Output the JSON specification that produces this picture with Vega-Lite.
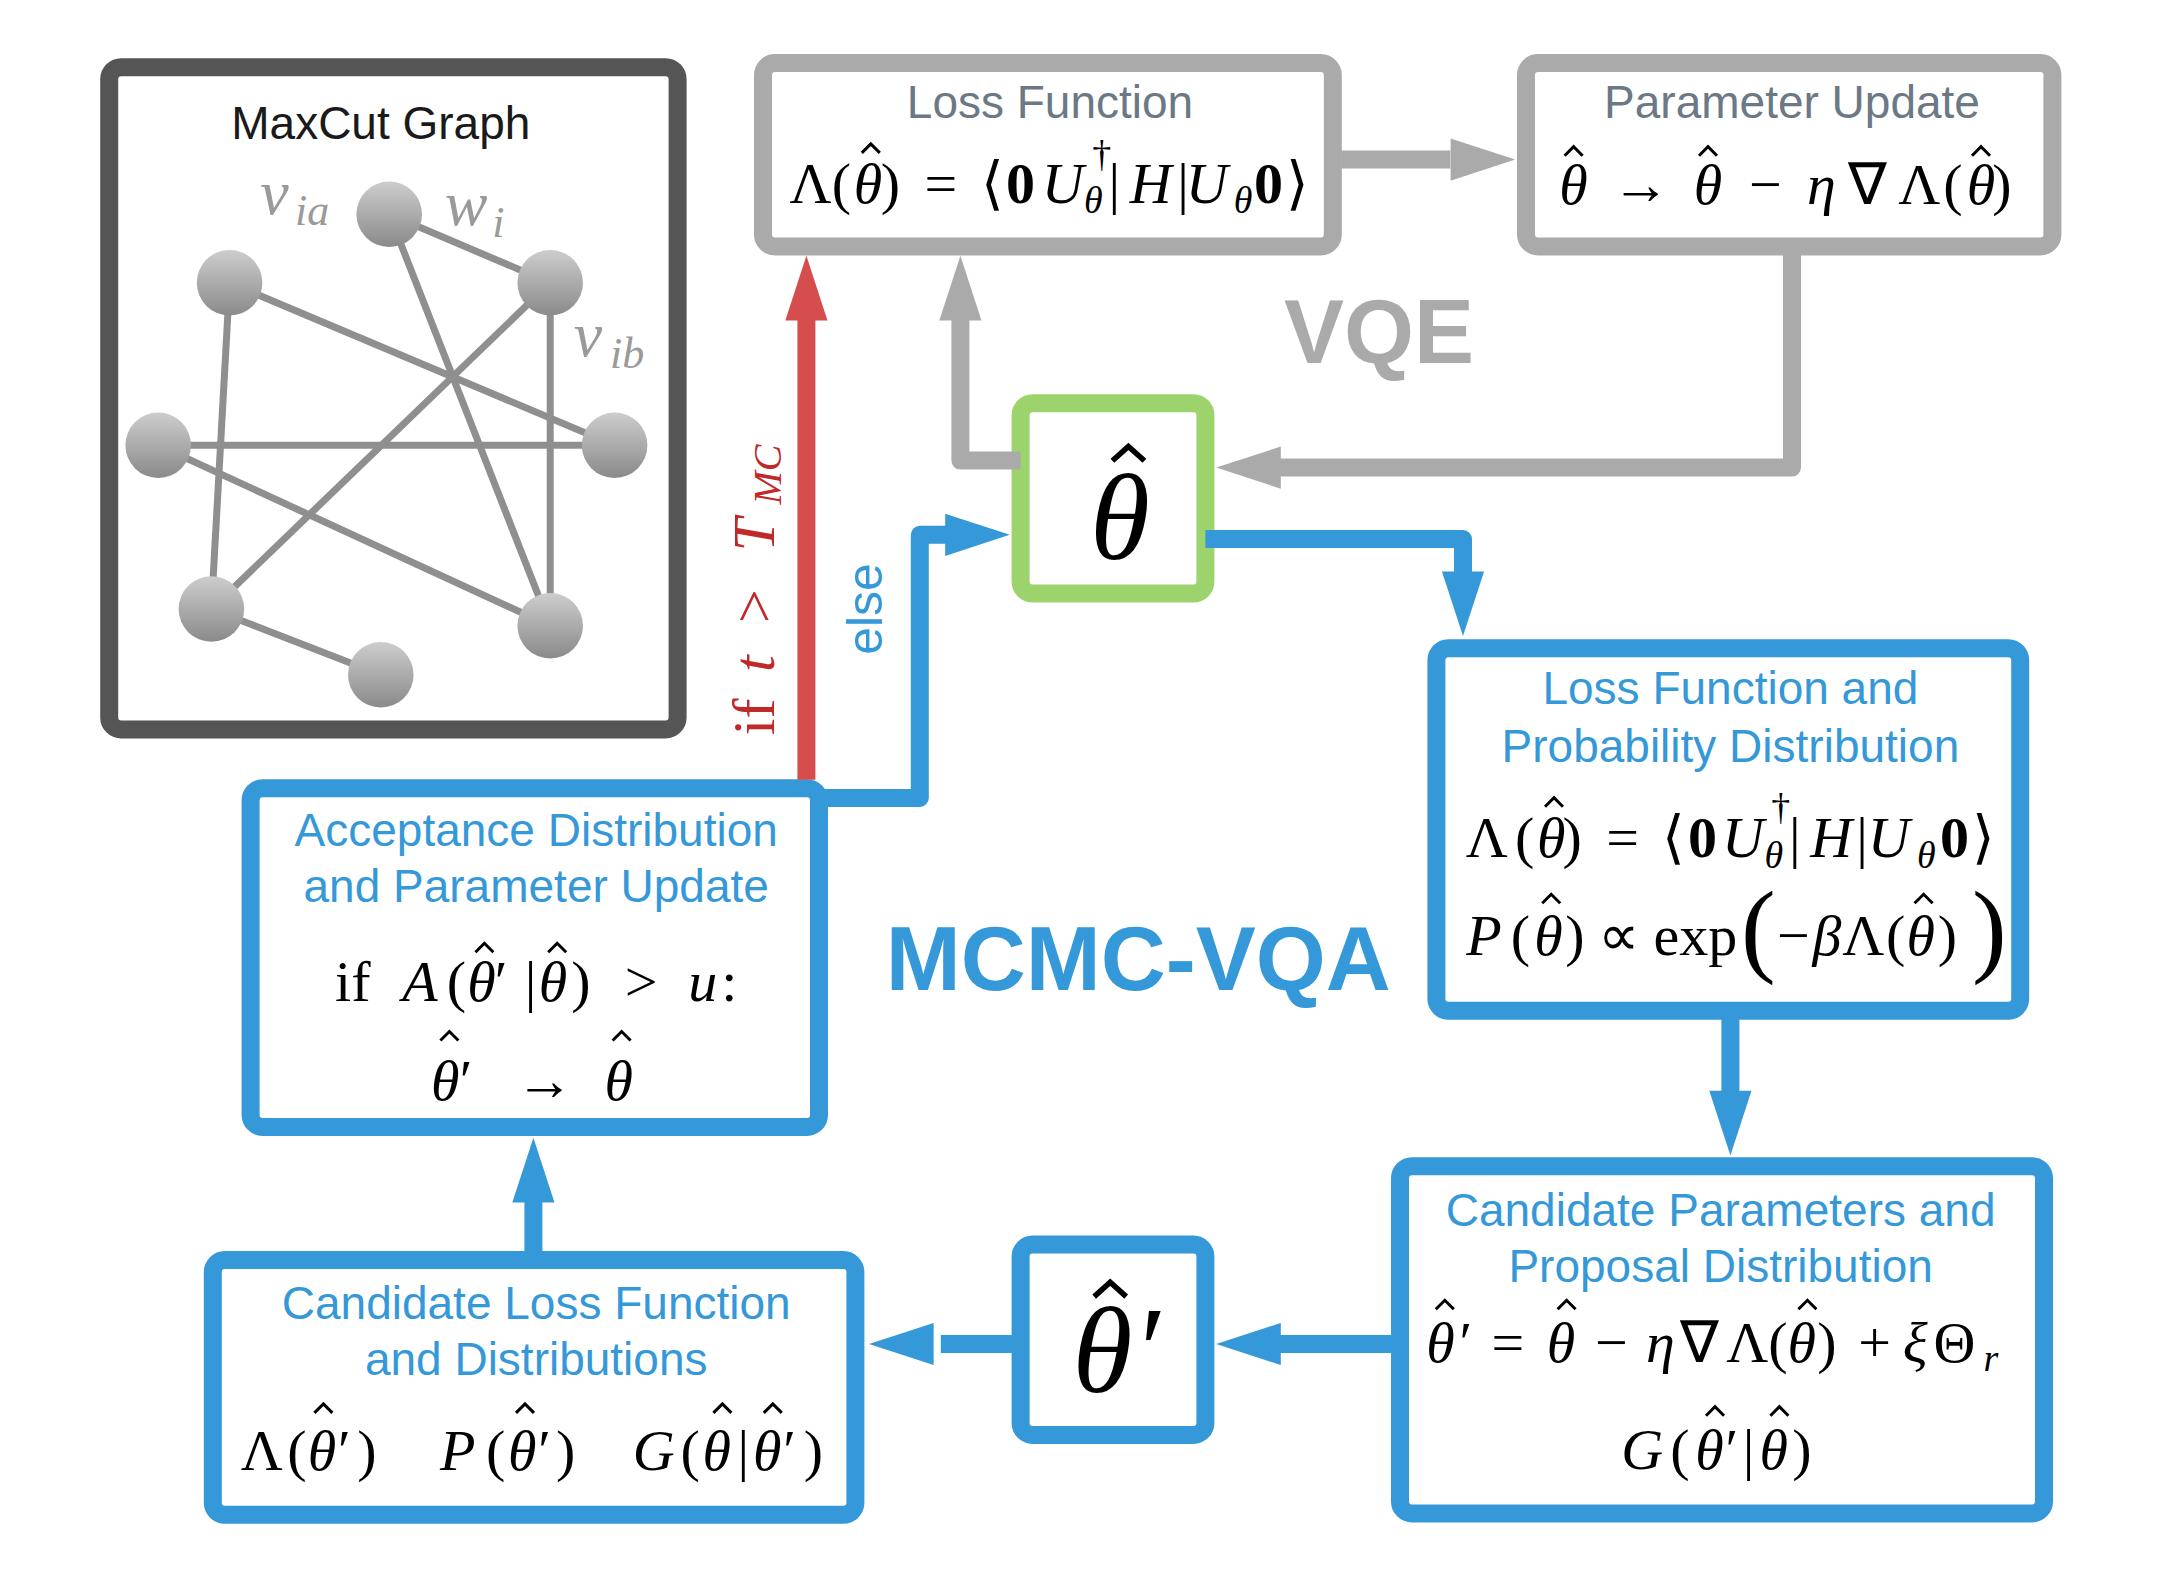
{
  "$schema": "https://vega.github.io/schema/vega-lite/v6.json",
  "description": "MCMC-VQA flow diagram with the VQE loop and a MaxCut graph",
  "width": 2184,
  "height": 1580,
  "autosize": {"type": "fit", "contains": "padding"},
  "padding": 0,
  "background": "white",
  "config": {"view": {"stroke": null}},
  "datasets": {
    "boxes": [
      {"x": 78, "x2": 484, "y": 48, "y2": 521, "kind": "graph"},
      {"x": 545, "x2": 952, "y": 45, "y2": 176, "kind": "vqe"},
      {"x": 1090, "x2": 1466, "y": 45, "y2": 176, "kind": "vqe"},
      {"x": 729, "x2": 861, "y": 288, "y2": 424, "kind": "theta"},
      {"x": 1026, "x2": 1443, "y": 463, "y2": 722, "kind": "mcmc"},
      {"x": 1000, "x2": 1460, "y": 833, "y2": 1081, "kind": "mcmc"},
      {"x": 729, "x2": 861, "y": 889, "y2": 1025, "kind": "mcmc"},
      {"x": 152, "x2": 611, "y": 900, "y2": 1082, "kind": "mcmc"},
      {"x": 179, "x2": 585, "y": 563, "y2": 805, "kind": "mcmc"}
    ],
    "edges": [
      {"x": 278, "y": 153, "x2": 393, "y2": 202},
      {"x": 278, "y": 153, "x2": 393, "y2": 447},
      {"x": 164, "y": 202, "x2": 439, "y2": 318},
      {"x": 164, "y": 202, "x2": 151, "y2": 435},
      {"x": 393, "y": 202, "x2": 151, "y2": 435},
      {"x": 393, "y": 202, "x2": 393, "y2": 447},
      {"x": 113, "y": 318, "x2": 439, "y2": 318},
      {"x": 113, "y": 318, "x2": 393, "y2": 447},
      {"x": 151, "y": 435, "x2": 272, "y2": 482}
    ],
    "nodes": [
      {"x": 278, "y": 153},
      {"x": 164, "y": 202},
      {"x": 393, "y": 202},
      {"x": 113, "y": 318},
      {"x": 439, "y": 318},
      {"x": 151, "y": 435},
      {"x": 393, "y": 447},
      {"x": 272, "y": 482}
    ],
    "paths": [
      {"p": "vqe1", "o": 1, "x": 958, "y": 114, "kind": "vqe"},
      {"p": "vqe1", "o": 2, "x": 1036, "y": 114, "kind": "vqe"},
      {"p": "vqe2", "o": 1, "x": 1280, "y": 176, "kind": "vqe"},
      {"p": "vqe2", "o": 2, "x": 1280, "y": 334, "kind": "vqe"},
      {"p": "vqe2", "o": 3, "x": 914, "y": 334, "kind": "vqe"},
      {"p": "vqe3", "o": 1, "x": 729, "y": 329, "kind": "vqe"},
      {"p": "vqe3", "o": 2, "x": 686, "y": 329, "kind": "vqe"},
      {"p": "vqe3", "o": 3, "x": 686, "y": 228, "kind": "vqe"},
      {"p": "red", "o": 1, "x": 576, "y": 557, "kind": "red"},
      {"p": "red", "o": 2, "x": 576, "y": 228, "kind": "red"},
      {"p": "b1", "o": 1, "x": 585, "y": 570, "kind": "mcmc"},
      {"p": "b1", "o": 2, "x": 657, "y": 570, "kind": "mcmc"},
      {"p": "b1", "o": 3, "x": 657, "y": 382, "kind": "mcmc"},
      {"p": "b1", "o": 4, "x": 676, "y": 382, "kind": "mcmc"},
      {"p": "b2", "o": 1, "x": 861, "y": 385, "kind": "mcmc"},
      {"p": "b2", "o": 2, "x": 1045, "y": 385, "kind": "mcmc"},
      {"p": "b2", "o": 3, "x": 1045, "y": 410, "kind": "mcmc"},
      {"p": "b3", "o": 1, "x": 1236, "y": 722, "kind": "mcmc"},
      {"p": "b3", "o": 2, "x": 1236, "y": 782, "kind": "mcmc"},
      {"p": "b4", "o": 1, "x": 1000, "y": 960, "kind": "mcmc"},
      {"p": "b4", "o": 2, "x": 914, "y": 960, "kind": "mcmc"},
      {"p": "b5", "o": 1, "x": 729, "y": 960, "kind": "mcmc"},
      {"p": "b5", "o": 2, "x": 672, "y": 960, "kind": "mcmc"},
      {"p": "b6", "o": 1, "x": 381, "y": 900, "kind": "mcmc"},
      {"p": "b6", "o": 2, "x": 381, "y": 858, "kind": "mcmc"}
    ],
    "heads": [
      {"x": 1058, "y": 114, "dir": "right", "kind": "vqe"},
      {"x": 893, "y": 334, "dir": "left", "kind": "vqe"},
      {"x": 686, "y": 207, "dir": "up", "kind": "vqe"},
      {"x": 576, "y": 207, "dir": "up", "kind": "red"},
      {"x": 697, "y": 382, "dir": "right", "kind": "mcmc"},
      {"x": 1045, "y": 430, "dir": "down", "kind": "mcmc"},
      {"x": 1236, "y": 801, "dir": "down", "kind": "mcmc"},
      {"x": 893, "y": 960, "dir": "left", "kind": "mcmc"},
      {"x": 645, "y": 960, "dir": "left", "kind": "mcmc"},
      {"x": 381, "y": 837, "dir": "up", "kind": "mcmc"}
    ],
    "titles": [
      {"x": 272, "y": 89, "text": "MaxCut Graph", "kind": "black"},
      {"x": 750, "y": 74, "text": "Loss Function", "kind": "slate"},
      {"x": 1280, "y": 74, "text": "Parameter Update", "kind": "slate"},
      {"x": 1236, "y": 493, "text": "Loss Function and", "kind": "mcmc"},
      {"x": 1236, "y": 534, "text": "Probability Distribution", "kind": "mcmc"},
      {"x": 1229, "y": 866, "text": "Candidate Parameters and", "kind": "mcmc"},
      {"x": 1229, "y": 906, "text": "Proposal Distribution", "kind": "mcmc"},
      {"x": 383, "y": 932, "text": "Candidate Loss Function", "kind": "mcmc"},
      {"x": 383, "y": 972, "text": "and Distributions", "kind": "mcmc"},
      {"x": 383, "y": 594, "text": "Acceptance Distribution", "kind": "mcmc"},
      {"x": 383, "y": 634, "text": "and Parameter Update", "kind": "mcmc"}
    ],
    "big": [
      {"x": 985, "y": 240, "text": "VQE", "kind": "vqe"},
      {"x": 813, "y": 688, "text": "MCMC-VQA", "kind": "mcmc"}
    ],
    "tokens": [
      {"s": "up", "x": 579, "y": 145, "t": "Λ"},
      {"s": "up", "x": 601, "y": 145, "t": "("},
      {"s": "it", "x": 620, "y": 145, "t": "θ"},
      {"s": "up", "x": 636, "y": 145, "t": ")"},
      {"s": "up", "x": 672, "y": 145, "t": "="},
      {"s": "up", "x": 709, "y": 145, "t": "⟨"},
      {"s": "bd", "x": 729, "y": 145, "t": "0"},
      {"s": "it", "x": 759, "y": 145, "t": "U"},
      {"s": "sup", "x": 787, "y": 119, "t": "†"},
      {"s": "sub", "x": 781, "y": 152, "t": "θ"},
      {"s": "up", "x": 796, "y": 145, "t": "|"},
      {"s": "it", "x": 822, "y": 145, "t": "H"},
      {"s": "up", "x": 845, "y": 145, "t": "|"},
      {"s": "it", "x": 862, "y": 145, "t": "U"},
      {"s": "sub", "x": 888, "y": 152, "t": "θ"},
      {"s": "bd", "x": 906, "y": 145, "t": "0"},
      {"s": "up", "x": 927, "y": 145, "t": "⟩"},

      {"s": "it", "x": 1124, "y": 146, "t": "θ"},
      {"s": "up", "x": 1172, "y": 146, "t": "→"},
      {"s": "it", "x": 1220, "y": 146, "t": "θ"},
      {"s": "up", "x": 1261, "y": 146, "t": "−"},
      {"s": "it", "x": 1301, "y": 146, "t": "η"},
      {"s": "up", "x": 1334, "y": 146, "t": "∇"},
      {"s": "up", "x": 1371, "y": 146, "t": "Λ"},
      {"s": "up", "x": 1395, "y": 146, "t": "("},
      {"s": "it", "x": 1415, "y": 146, "t": "θ"},
      {"s": "up", "x": 1430, "y": 146, "t": ")"},

      {"s": "up", "x": 1062, "y": 612, "t": "Λ"},
      {"s": "up", "x": 1089, "y": 612, "t": "("},
      {"s": "it", "x": 1108, "y": 612, "t": "θ"},
      {"s": "up", "x": 1123, "y": 612, "t": ")"},
      {"s": "up", "x": 1159, "y": 612, "t": "="},
      {"s": "up", "x": 1195, "y": 612, "t": "⟨"},
      {"s": "bd", "x": 1216, "y": 612, "t": "0"},
      {"s": "it", "x": 1245, "y": 612, "t": "U"},
      {"s": "sup", "x": 1272, "y": 586, "t": "†"},
      {"s": "sub", "x": 1267, "y": 620, "t": "θ"},
      {"s": "up", "x": 1282, "y": 612, "t": "|"},
      {"s": "it", "x": 1308, "y": 612, "t": "H"},
      {"s": "up", "x": 1330, "y": 612, "t": "|"},
      {"s": "it", "x": 1349, "y": 612, "t": "U"},
      {"s": "sub", "x": 1376, "y": 620, "t": "θ"},
      {"s": "bd", "x": 1396, "y": 612, "t": "0"},
      {"s": "up", "x": 1417, "y": 612, "t": "⟩"},

      {"s": "it", "x": 1060, "y": 682, "t": "P"},
      {"s": "up", "x": 1086, "y": 682, "t": "("},
      {"s": "it", "x": 1106, "y": 682, "t": "θ"},
      {"s": "up", "x": 1125, "y": 682, "t": ")"},
      {"s": "up", "x": 1156, "y": 682, "t": "∝"},
      {"s": "up", "x": 1211, "y": 682, "t": "exp"},
      {"s": "bigp", "x": 1256, "y": 688, "t": "("},
      {"s": "up", "x": 1281, "y": 682, "t": "−"},
      {"s": "it", "x": 1305, "y": 682, "t": "β"},
      {"s": "up", "x": 1331, "y": 682, "t": "Λ"},
      {"s": "up", "x": 1354, "y": 682, "t": "("},
      {"s": "it", "x": 1372, "y": 682, "t": "θ"},
      {"s": "up", "x": 1391, "y": 682, "t": ")"},
      {"s": "bigp", "x": 1421, "y": 688, "t": ")"},

      {"s": "it", "x": 1029, "y": 973, "t": "θ"},
      {"s": "up", "x": 1047, "y": 973, "t": "′"},
      {"s": "up", "x": 1077, "y": 973, "t": "="},
      {"s": "it", "x": 1115, "y": 973, "t": "θ"},
      {"s": "up", "x": 1151, "y": 973, "t": "−"},
      {"s": "it", "x": 1186, "y": 973, "t": "η"},
      {"s": "up", "x": 1214, "y": 973, "t": "∇"},
      {"s": "up", "x": 1248, "y": 973, "t": "Λ"},
      {"s": "up", "x": 1270, "y": 973, "t": "("},
      {"s": "it", "x": 1287, "y": 973, "t": "θ"},
      {"s": "up", "x": 1305, "y": 973, "t": ")"},
      {"s": "up", "x": 1339, "y": 973, "t": "+"},
      {"s": "it", "x": 1368, "y": 973, "t": "ξ"},
      {"s": "up", "x": 1396, "y": 973, "t": "Θ"},
      {"s": "sub", "x": 1422, "y": 979, "t": "r"},

      {"s": "it", "x": 1173, "y": 1049, "t": "G"},
      {"s": "up", "x": 1200, "y": 1049, "t": "("},
      {"s": "it", "x": 1221, "y": 1049, "t": "θ"},
      {"s": "up", "x": 1237, "y": 1049, "t": "′"},
      {"s": "up", "x": 1249, "y": 1049, "t": "|"},
      {"s": "it", "x": 1267, "y": 1049, "t": "θ"},
      {"s": "up", "x": 1287, "y": 1049, "t": ")"},

      {"s": "up", "x": 187, "y": 1050, "t": "Λ"},
      {"s": "up", "x": 212, "y": 1050, "t": "("},
      {"s": "it", "x": 230, "y": 1050, "t": "θ"},
      {"s": "up", "x": 246, "y": 1050, "t": "′"},
      {"s": "up", "x": 262, "y": 1050, "t": ")"},
      {"s": "it", "x": 327, "y": 1050, "t": "P"},
      {"s": "up", "x": 354, "y": 1050, "t": "("},
      {"s": "it", "x": 373, "y": 1050, "t": "θ"},
      {"s": "up", "x": 389, "y": 1050, "t": "′"},
      {"s": "up", "x": 404, "y": 1050, "t": ")"},
      {"s": "it", "x": 467, "y": 1050, "t": "G"},
      {"s": "up", "x": 493, "y": 1050, "t": "("},
      {"s": "it", "x": 512, "y": 1050, "t": "θ"},
      {"s": "up", "x": 531, "y": 1050, "t": "|"},
      {"s": "it", "x": 548, "y": 1050, "t": "θ"},
      {"s": "up", "x": 564, "y": 1050, "t": "′"},
      {"s": "up", "x": 581, "y": 1050, "t": ")"},

      {"s": "up", "x": 252, "y": 715, "t": "if"},
      {"s": "it", "x": 300, "y": 715, "t": "A"},
      {"s": "up", "x": 326, "y": 715, "t": "("},
      {"s": "it", "x": 344, "y": 715, "t": "θ"},
      {"s": "up", "x": 358, "y": 715, "t": "′"},
      {"s": "up", "x": 379, "y": 715, "t": "|"},
      {"s": "it", "x": 395, "y": 715, "t": "θ"},
      {"s": "up", "x": 415, "y": 715, "t": ")"},
      {"s": "up", "x": 458, "y": 715, "t": ">"},
      {"s": "it", "x": 502, "y": 715, "t": "u"},
      {"s": "up", "x": 521, "y": 715, "t": ":"},

      {"s": "it", "x": 318, "y": 786, "t": "θ"},
      {"s": "up", "x": 333, "y": 786, "t": "′"},
      {"s": "up", "x": 389, "y": 786, "t": "→"},
      {"s": "it", "x": 442, "y": 786, "t": "θ"},

      {"s": "bigit", "x": 800, "y": 399, "t": "θ"},
      {"s": "bigit", "x": 797, "y": 994, "t": "θ′"}
    ],
    "hats": [
      {"s": "small", "x": 622, "y": 106},
      {"s": "small", "x": 1124, "y": 108},
      {"s": "small", "x": 1220, "y": 108},
      {"s": "small", "x": 1415, "y": 108},
      {"s": "small", "x": 1110, "y": 573},
      {"s": "small", "x": 1108, "y": 642},
      {"s": "small", "x": 1374, "y": 642},
      {"s": "small", "x": 1032, "y": 932},
      {"s": "small", "x": 1119, "y": 932},
      {"s": "small", "x": 1291, "y": 932},
      {"s": "small", "x": 1225, "y": 1008},
      {"s": "small", "x": 1271, "y": 1008},
      {"s": "small", "x": 231, "y": 1006},
      {"s": "small", "x": 375, "y": 1006},
      {"s": "small", "x": 516, "y": 1006},
      {"s": "small", "x": 552, "y": 1006},
      {"s": "small", "x": 346, "y": 677},
      {"s": "small", "x": 398, "y": 677},
      {"s": "small", "x": 321, "y": 740},
      {"s": "small", "x": 444, "y": 740},
      {"s": "big", "x": 806, "y": 324},
      {"s": "big", "x": 793, "y": 921}
    ],
    "glabels": [
      {"x": 196, "y": 153, "text": "v"},
      {"x": 333, "y": 161, "text": "w"},
      {"x": 420, "y": 254, "text": "v"}
    ],
    "gsubs": [
      {"x": 223, "y": 161, "text": "ia"},
      {"x": 356, "y": 169, "text": "i"},
      {"x": 448, "y": 263, "text": "ib"}
    ],
    "redplain": [
      {"x": 553, "y": 512, "text": "if"},
      {"x": 553, "y": 433, "text": ">"}
    ],
    "reditalic": [
      {"x": 553, "y": 474, "text": "t"},
      {"x": 553, "y": 382, "text": "T"}
    ],
    "redsub": [
      {"x": 558, "y": 339, "text": "MC"}
    ],
    "elses": [
      {"x": 630, "y": 435, "text": "else"}
    ]
  },
  "encoding": {
    "x": {"field": "x", "type": "quantitative", "scale": {"domain": [0, 1560], "nice": false, "zero": false}, "axis": null},
    "y": {"field": "y", "type": "quantitative", "scale": {"domain": [0, 1128.57], "reverse": true, "nice": false, "zero": false}, "axis": null}
  },
  "layer": [
    {
      "data": {"name": "edges"},
      "mark": {"type": "rule", "color": "#8f8f8f", "strokeWidth": 7},
      "encoding": {"x2": {"field": "x2"}, "y2": {"field": "y2"}}
    },
    {
      "data": {"name": "nodes"},
      "mark": {
        "type": "circle",
        "size": 4300,
        "opacity": 1,
        "stroke": null,
        "fill": {
          "gradient": "linear",
          "x1": 0, "y1": 0, "x2": 0, "y2": 1,
          "stops": [
            {"offset": 0, "color": "#cdcdcd"},
            {"offset": 1, "color": "#8a8a8a"}
          ]
        }
      }
    },
    {
      "data": {"name": "boxes"},
      "mark": {"type": "rect", "filled": false, "strokeWidth": 18, "cornerRadius": 12},
      "encoding": {
        "x2": {"field": "x2"},
        "y2": {"field": "y2"},
        "color": {
          "field": "kind", "type": "nominal", "legend": null,
          "scale": {
            "domain": ["graph", "vqe", "theta", "mcmc", "red", "slate", "black"],
            "range": ["#555555", "#aaaaaa", "#9dd36c", "#3598d8", "#d64d4d", "#6b7886", "#1a1a1a"]
          }
        }
      }
    },
    {
      "data": {"name": "paths"},
      "mark": {"type": "line", "strokeWidth": 18, "strokeJoin": "round", "strokeCap": "butt"},
      "encoding": {
        "detail": {"field": "p"},
        "order": {"field": "o", "type": "quantitative"},
        "color": {"field": "kind", "type": "nominal", "legend": null}
      }
    },
    {
      "data": {"name": "heads"},
      "mark": {"type": "point", "filled": true, "opacity": 1, "size": 4624, "strokeWidth": 0},
      "encoding": {
        "shape": {
          "field": "dir", "type": "nominal", "legend": null,
          "scale": {
            "domain": ["up", "down", "left", "right"],
            "range": ["M0,-1L0.62,0.9L-0.62,0.9Z", "M0,1L-0.62,-0.9L0.62,-0.9Z", "M-1,0L0.9,-0.62L0.9,0.62Z", "M1,0L-0.9,-0.62L-0.9,0.62Z"]
          }
        },
        "color": {"field": "kind", "type": "nominal", "legend": null}
      }
    },
    {
      "data": {"name": "titles"},
      "mark": {"type": "text", "font": "Liberation Sans", "fontSize": 46, "baseline": "middle", "align": "center"},
      "encoding": {
        "text": {"field": "text"},
        "color": {"field": "kind", "type": "nominal", "legend": null}
      }
    },
    {
      "data": {"name": "big"},
      "mark": {"type": "text", "font": "Liberation Sans", "fontSize": 90, "fontWeight": "bold", "baseline": "middle", "align": "center"},
      "encoding": {
        "text": {"field": "text"},
        "color": {"field": "kind", "type": "nominal", "legend": null}
      }
    },
    {
      "data": {"name": "tokens"},
      "transform": [{"filter": "datum.s === 'up'"}],
      "mark": {"type": "text", "font": "Liberation Serif", "fontSize": 58, "baseline": "alphabetic", "align": "center", "color": "#000000"},
      "encoding": {"text": {"field": "t"}}
    },
    {
      "data": {"name": "tokens"},
      "transform": [{"filter": "datum.s === 'it'"}],
      "mark": {"type": "text", "font": "Liberation Serif", "fontStyle": "italic", "fontSize": 58, "baseline": "alphabetic", "align": "center", "color": "#000000"},
      "encoding": {"text": {"field": "t"}}
    },
    {
      "data": {"name": "tokens"},
      "transform": [{"filter": "datum.s === 'bd'"}],
      "mark": {"type": "text", "font": "Liberation Serif", "fontWeight": "bold", "fontSize": 58, "baseline": "alphabetic", "align": "center", "color": "#000000"},
      "encoding": {"text": {"field": "t"}}
    },
    {
      "data": {"name": "tokens"},
      "transform": [{"filter": "datum.s === 'sup'"}],
      "mark": {"type": "text", "font": "Liberation Serif", "fontSize": 38, "baseline": "alphabetic", "align": "center", "color": "#000000"},
      "encoding": {"text": {"field": "t"}}
    },
    {
      "data": {"name": "tokens"},
      "transform": [{"filter": "datum.s === 'sub'"}],
      "mark": {"type": "text", "font": "Liberation Serif", "fontStyle": "italic", "fontSize": 38, "baseline": "alphabetic", "align": "center", "color": "#000000"},
      "encoding": {"text": {"field": "t"}}
    },
    {
      "data": {"name": "tokens"},
      "transform": [{"filter": "datum.s === 'bigp'"}],
      "mark": {"type": "text", "font": "Liberation Serif", "fontSize": 104, "baseline": "alphabetic", "align": "center", "color": "#000000"},
      "encoding": {"text": {"field": "t"}}
    },
    {
      "data": {"name": "tokens"},
      "transform": [{"filter": "datum.s === 'bigit'"}],
      "mark": {"type": "text", "font": "Liberation Serif", "fontStyle": "italic", "fontSize": 122, "baseline": "alphabetic", "align": "center", "color": "#000000"},
      "encoding": {"text": {"field": "t"}}
    },
    {
      "data": {"name": "hats"},
      "transform": [{"filter": "datum.s === 'small'"}],
      "mark": {"type": "point", "filled": false, "opacity": 1, "size": 324, "shape": "M-1,0.5L0,-0.5L1,0.5", "stroke": "#000000", "strokeWidth": 3}
    },
    {
      "data": {"name": "hats"},
      "transform": [{"filter": "datum.s === 'big'"}],
      "mark": {"type": "point", "filled": false, "opacity": 1, "size": 1024, "shape": "M-1,0.45L0,-0.45L1,0.45", "stroke": "#000000", "strokeWidth": 5.5}
    },
    {
      "data": {"name": "glabels"},
      "mark": {"type": "text", "font": "Liberation Serif", "fontStyle": "italic", "fontSize": 64, "baseline": "alphabetic", "align": "center", "color": "#9a9a9a"},
      "encoding": {"text": {"field": "text"}}
    },
    {
      "data": {"name": "gsubs"},
      "mark": {"type": "text", "font": "Liberation Serif", "fontStyle": "italic", "fontSize": 44, "baseline": "alphabetic", "align": "center", "color": "#9a9a9a"},
      "encoding": {"text": {"field": "text"}}
    },
    {
      "data": {"name": "redplain"},
      "mark": {"type": "text", "font": "Liberation Serif", "fontSize": 60, "angle": 270, "baseline": "alphabetic", "align": "center", "color": "#c0282a"},
      "encoding": {"text": {"field": "text"}}
    },
    {
      "data": {"name": "reditalic"},
      "mark": {"type": "text", "font": "Liberation Serif", "fontStyle": "italic", "fontSize": 60, "angle": 270, "baseline": "alphabetic", "align": "center", "color": "#c0282a"},
      "encoding": {"text": {"field": "text"}}
    },
    {
      "data": {"name": "redsub"},
      "mark": {"type": "text", "font": "Liberation Serif", "fontStyle": "italic", "fontSize": 40, "angle": 270, "baseline": "alphabetic", "align": "center", "color": "#c0282a"},
      "encoding": {"text": {"field": "text"}}
    },
    {
      "data": {"name": "elses"},
      "mark": {"type": "text", "font": "Liberation Sans", "fontSize": 50, "angle": 270, "baseline": "alphabetic", "align": "center", "color": "#3598d8"},
      "encoding": {"text": {"field": "text"}}
    }
  ]
}
